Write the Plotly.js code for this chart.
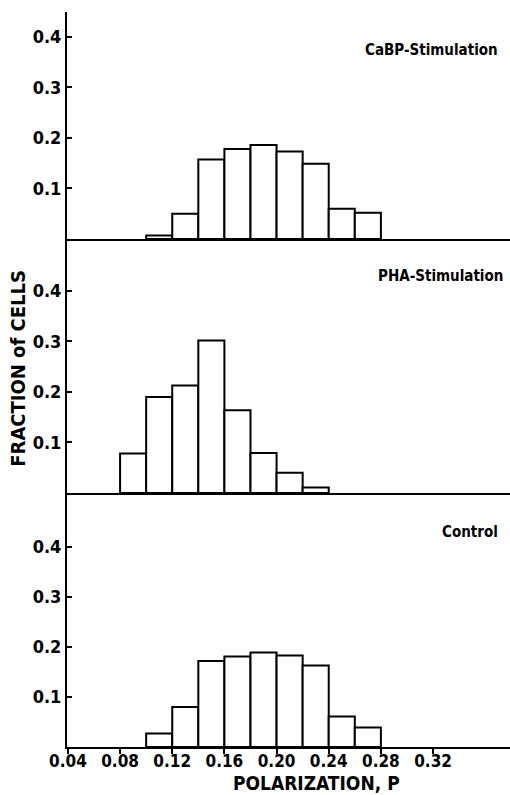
<!DOCTYPE html>
<html><head><meta charset="utf-8">
<script src="https://cdn.plot.ly/plotly-3.0.1.min.js"></script>
<style>html,body{margin:0;padding:0;background:#fff}#chart{width:510px;height:795px}</style>
</head><body><div id="chart"></div>
<script>
// Bin left edges (polarization P), bin width 0.02
const binWidth = 0.02;
const cabpBins = [0.10, 0.12, 0.14, 0.16, 0.18, 0.20, 0.22, 0.24, 0.26];
const cabpFrac = [0.007, 0.050, 0.157, 0.178, 0.186, 0.173, 0.149, 0.060, 0.052];
const phaBins  = [0.08, 0.10, 0.12, 0.14, 0.16, 0.18, 0.20, 0.22];
const phaFrac  = [0.078, 0.190, 0.213, 0.302, 0.164, 0.079, 0.040, 0.011];
const ctrlBins = [0.10, 0.12, 0.14, 0.16, 0.18, 0.20, 0.22, 0.24, 0.26];
const ctrlFrac = [0.027, 0.080, 0.172, 0.181, 0.189, 0.183, 0.163, 0.061, 0.039];
const xTicks = [0.04, 0.08, 0.12, 0.16, 0.20, 0.24, 0.28, 0.32];
const xTickText = ["0.04", "0.08", "0.12", "0.16", "0.20", "0.24", "0.28", "0.32"];
const yTicks = [0.1, 0.2, 0.3, 0.4];
const yTickText = ["0.1", "0.2", "0.3", "0.4"];
const panelNames = ["CaBP-Stimulation", "PHA-Stimulation", "Control"];

const FONT = "DejaVu Sans Condensed, Liberation Sans Narrow, Arial Narrow, sans-serif";
function barTrace(bins, frac, xa, ya) {
  return {
    type: "bar", x: bins.map(b => b + binWidth / 2), y: frac, width: binWidth,
    xaxis: xa, yaxis: ya,
    marker: {color: "#ffffff", line: {color: "#000000", width: 2}},
    hoverinfo: "skip", showlegend: false
  };
}
const data = [
  barTrace(ctrlBins, ctrlFrac, "x", "y"),
  barTrace(phaBins, phaFrac, "x2", "y2"),
  barTrace(cabpBins, cabpFrac, "x3", "y3")
];
const xr = [0.0393, 0.379];
const yBase = {
  showline: true, linecolor: "#000", linewidth: 2, showgrid: false, zeroline: false,
  ticks: "inside", ticklen: 5, tickwidth: 2, tickcolor: "#000",
  tickvals: yTicks, ticktext: yTickText,
  tickfont: {family: FONT, size: 18, color: "#000", weight: "bold"}
};
const xHidden = {
  range: xr, showline: true, linecolor: "#000", linewidth: 2, showgrid: false, zeroline: false,
  showticklabels: false, ticks: ""
};
const lblFont = {family: FONT, size: 15, color: "#000", weight: "bold"};
const layout = {
  width: 510, height: 795,
  margin: {l: 67, r: 0, t: 12, b: 48},
  paper_bgcolor: "#fff", plot_bgcolor: "#fff",
  bargap: 0,
  xaxis: {
    range: xr, showline: true, linecolor: "#000", linewidth: 2, showgrid: false, zeroline: false,
    tickvals: xTicks, ticktext: xTickText, ticks: "outside", ticklen: 5, tickwidth: 2, tickcolor: "#000",
    ticklabelstandoff: -7,
    tickfont: {family: FONT, size: 17, color: "#000", weight: "bold"},
    anchor: "y"
  },
  xaxis2: Object.assign({}, xHidden, {anchor: "y2", matches: "x"}),
  xaxis3: Object.assign({}, xHidden, {anchor: "y3", matches: "x"}),
  yaxis: Object.assign({}, yBase, {domain: [0, 0.3456], range: [0, 0.508], anchor: "x"}),
  yaxis2: Object.assign({}, yBase, {domain: [0.3456, 0.6912], range: [0, 0.503], anchor: "x2"}),
  yaxis3: Object.assign({}, yBase, {domain: [0.6912, 1], range: [0, 0.449], anchor: "x3"}),
  annotations: [
    {text: panelNames[0], xref: "paper", yref: "paper", x: 0.977, y: 0.948, xanchor: "right", yanchor: "middle", showarrow: false, font: lblFont},
    {text: panelNames[1], xref: "paper", yref: "paper", x: 0.989, y: 0.641, xanchor: "right", yanchor: "middle", showarrow: false, font: lblFont},
    {text: panelNames[2], xref: "paper", yref: "paper", x: 0.977, y: 0.292, xanchor: "right", yanchor: "middle", showarrow: false, font: lblFont},
    {text: "FRACTION of CELLS", xref: "paper", yref: "paper", x: -0.11, y: 0.515, xanchor: "center", yanchor: "middle",
     textangle: -90, showarrow: false, font: {family: FONT, size: 20, color: "#000", weight: "bold"}},
    {text: "POLARIZATION, P", xref: "paper", yref: "paper", x: 0.564, y: -0.066, xanchor: "center", yanchor: "bottom",
     showarrow: false, font: {family: FONT, size: 19, color: "#000", weight: "bold"}}
  ]
};
Plotly.newPlot("chart", data, layout, {displayModeBar: false, staticPlot: true});
</script></body></html>
